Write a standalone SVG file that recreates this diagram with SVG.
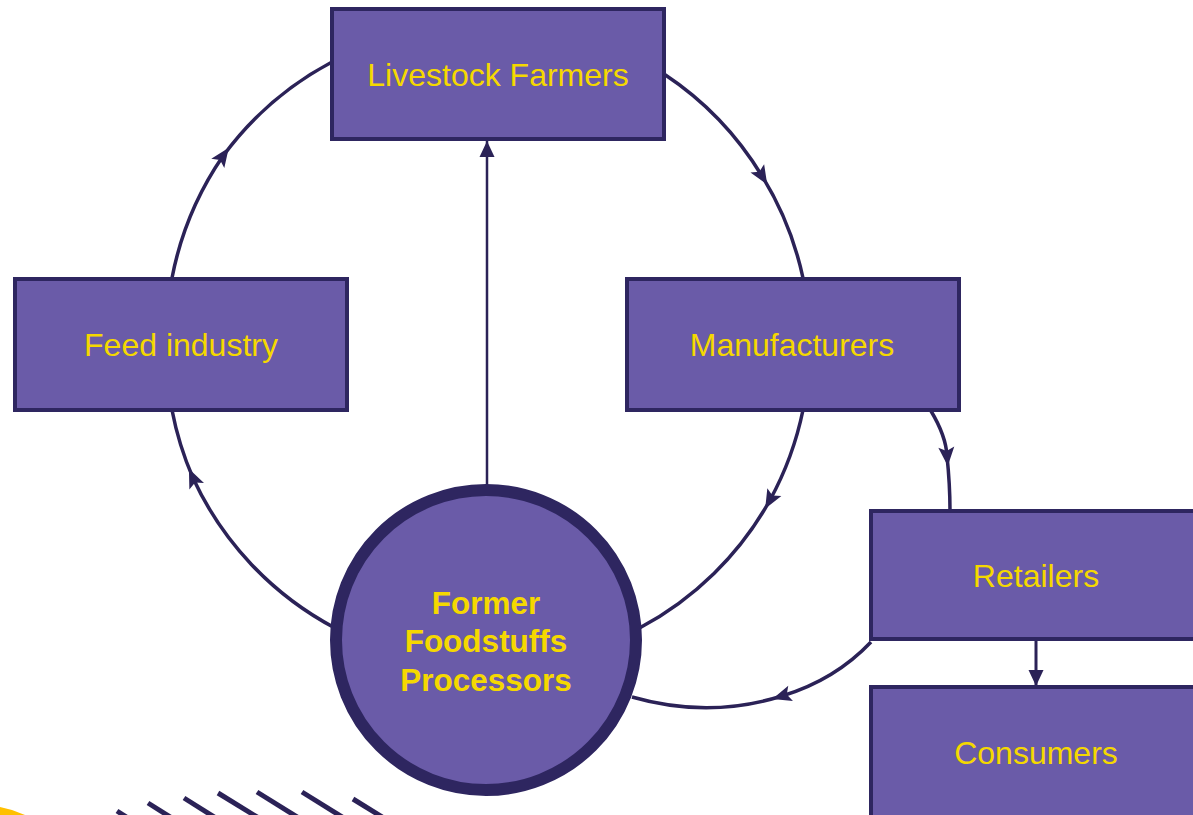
<svg xmlns="http://www.w3.org/2000/svg" width="1193" height="815" viewBox="0 0 1193 815">
<style>
.box{fill:#6A5BA8;stroke:#2E2660;stroke-width:4}
.lbl{font-family:"Liberation Sans",Arial,sans-serif;font-size:32px;fill:#F5D800;text-anchor:middle}
.blbl{font-family:"Liberation Sans",Arial,sans-serif;font-size:31.5px;font-weight:bold;fill:#F5D800;text-anchor:middle}
.arc{fill:none;stroke:#2B2257;stroke-width:3.5}
.thin{fill:none;stroke:#2B2257;stroke-width:2.5}
.stripe{stroke:#2B2257;stroke-width:5}
</style>
<defs>
<marker id="mid" markerUnits="userSpaceOnUse" markerWidth="30" markerHeight="30" viewBox="-15 -15 30 30" refX="0" refY="0" orient="auto" overflow="visible">
<path d="M-9,-8 L10,0 L-9,8 L-5,0 z" fill="#2B2257"/>
</marker>
<marker id="end" markerUnits="userSpaceOnUse" markerWidth="30" markerHeight="30" viewBox="-20 -15 30 30" refX="0" refY="0" orient="auto" overflow="visible">
<path d="M-16,-7.5 L0,0 L-16,7.5 z" fill="#2B2257"/>
</marker>
</defs>
<rect width="1193" height="815" fill="#FFFFFF"/>
<g id="decor">
<polygon points="0,807 12,810 25,815 0,815" fill="#FFC000"/>
<line class="stripe" x1="117" y1="811" x2="131" y2="820"/>
<line class="stripe" x1="148" y1="803" x2="175" y2="820"/>
<line class="stripe" x1="184" y1="798" x2="219" y2="820"/>
<line class="stripe" x1="218" y1="793" x2="262" y2="820"/>
<line class="stripe" x1="257" y1="792" x2="302" y2="820"/>
<line class="stripe" x1="302" y1="792" x2="347" y2="820"/>
<line class="stripe" x1="353" y1="799" x2="387" y2="820"/>
</g>
<g id="connectors">
<path class="arc" marker-mid="url(#mid)" d="M172,278 A322.3,322.3 0 0 1 223,156 A322.3,322.3 0 0 1 332,62"/>
<path class="arc" marker-mid="url(#mid)" d="M664,74 A322.3,322.3 0 0 1 762,176 A322.3,322.3 0 0 1 803,278"/>
<path class="arc" marker-mid="url(#mid)" d="M803,410 A322.3,322.3 0 0 1 770,500 A322.3,322.3 0 0 1 639.5,628"/>
<path class="arc" marker-mid="url(#mid)" d="M335,628 A322.3,322.3 0 0 1 193,478 A322.3,322.3 0 0 1 172,410"/>
<path class="arc" marker-mid="url(#mid)" d="M931,411 Q946,436 947,456 Q950,485 950,511"/>
<path class="arc" marker-mid="url(#mid)" d="M871,642 Q835,680 782,696 Q708.5,719 632,697"/>
<line class="thin" x1="487" y1="492" x2="487" y2="141" marker-end="url(#end)"/>
<line class="thin" x1="1036" y1="641" x2="1036" y2="686" marker-end="url(#end)" style="stroke-width:3"/>
</g>
<g id="livestock">
<rect class="box" x="332" y="9" width="332" height="130"/>
<text class="lbl" x="498" y="86">Livestock Farmers</text>
</g>
<g id="feed">
<rect class="box" x="15" y="279" width="332" height="131"/>
<text class="lbl" x="181" y="356">Feed industry</text>
</g>
<g id="manufacturers">
<rect class="box" x="627" y="279" width="332" height="131"/>
<text class="lbl" x="792" y="356">Manufacturers</text>
</g>
<g id="retailers">
<rect class="box" x="871" y="511" width="340" height="128"/>
<text class="lbl" x="1036" y="587">Retailers</text>
</g>
<g id="consumers">
<rect class="box" x="871" y="687" width="340" height="140"/>
<text class="lbl" x="1036" y="764">Consumers</text>
</g>
<g id="processors">
<circle cx="486" cy="640" r="150" fill="#6A5BA8" stroke="#2E2660" stroke-width="12"/>
<text class="blbl" x="486" y="614">Former</text>
<text class="blbl" x="486" y="652">Foodstuffs</text>
<text class="blbl" x="486" y="691">Processors</text>
</g>
</svg>
